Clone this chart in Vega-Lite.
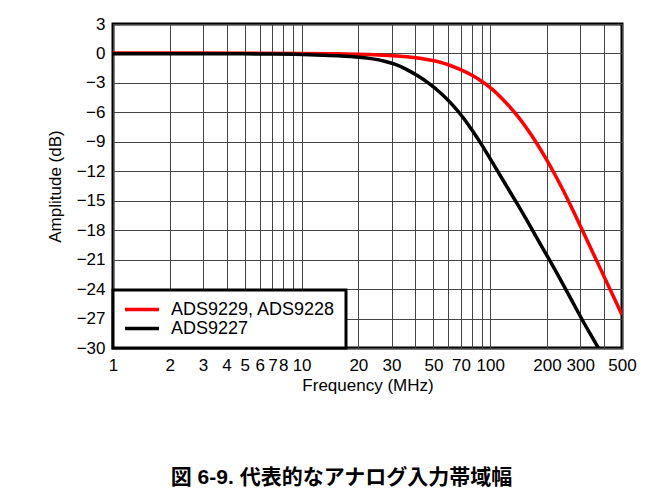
{
  "$schema": "https://vega.github.io/schema/vega-lite/v6.json",
  "width": 509,
  "height": 324,
  "autosize": {"type": "none"},
  "padding": {"left": 113, "top": 24, "right": 45, "bottom": 144},
  "background": "white",
  "title": {
    "text": "図 6-9. 代表的なアナログ入力帯域幅",
    "orient": "bottom",
    "anchor": "middle",
    "offset": 74,
    "dx": -26,
    "font": "Liberation Sans, Noto Sans CJK JP",
    "fontSize": 21,
    "fontWeight": "bold",
    "color": "black"
  },
  "config": {
    "font": "Liberation Sans",
    "view": {"stroke": "black", "strokeWidth": 3},
    "legend": {"strokeWidth": 3}
  },
  "data": {
    "values": [
      {"series": "ADS9229, ADS9228", "f": 1, "db": 0.05},
      {"series": "ADS9229, ADS9228", "f": 3, "db": 0.05},
      {"series": "ADS9229, ADS9228", "f": 6, "db": 0.03},
      {"series": "ADS9229, ADS9228", "f": 10, "db": 0.0},
      {"series": "ADS9229, ADS9228", "f": 14, "db": -0.03},
      {"series": "ADS9229, ADS9228", "f": 20, "db": -0.08},
      {"series": "ADS9229, ADS9228", "f": 26, "db": -0.15},
      {"series": "ADS9229, ADS9228", "f": 32, "db": -0.25},
      {"series": "ADS9229, ADS9228", "f": 39.8, "db": -0.4},
      {"series": "ADS9229, ADS9228", "f": 46, "db": -0.6},
      {"series": "ADS9229, ADS9228", "f": 54, "db": -0.85},
      {"series": "ADS9229, ADS9228", "f": 62, "db": -1.24},
      {"series": "ADS9229, ADS9228", "f": 70.8, "db": -1.7},
      {"series": "ADS9229, ADS9228", "f": 79.4, "db": -2.17},
      {"series": "ADS9229, ADS9228", "f": 88, "db": -2.68},
      {"series": "ADS9229, ADS9228", "f": 95, "db": -3.13},
      {"series": "ADS9229, ADS9228", "f": 103, "db": -3.67},
      {"series": "ADS9229, ADS9228", "f": 112, "db": -4.31},
      {"series": "ADS9229, ADS9228", "f": 126, "db": -5.33},
      {"series": "ADS9229, ADS9228", "f": 143, "db": -6.6},
      {"series": "ADS9229, ADS9228", "f": 159, "db": -7.82},
      {"series": "ADS9229, ADS9228", "f": 178, "db": -9.24},
      {"series": "ADS9229, ADS9228", "f": 198, "db": -10.72},
      {"series": "ADS9229, ADS9228", "f": 223, "db": -12.5},
      {"series": "ADS9229, ADS9228", "f": 245, "db": -14.01},
      {"series": "ADS9229, ADS9228", "f": 268, "db": -15.53},
      {"series": "ADS9229, ADS9228", "f": 297, "db": -17.36},
      {"series": "ADS9229, ADS9228", "f": 325, "db": -18.96},
      {"series": "ADS9229, ADS9228", "f": 355, "db": -20.53},
      {"series": "ADS9229, ADS9228", "f": 385, "db": -21.97},
      {"series": "ADS9229, ADS9228", "f": 417, "db": -23.39},
      {"series": "ADS9229, ADS9228", "f": 457, "db": -25.02},
      {"series": "ADS9229, ADS9228", "f": 500, "db": -26.62},
      {"series": "ADS9227", "f": 1, "db": -0.03},
      {"series": "ADS9227", "f": 3, "db": -0.03},
      {"series": "ADS9227", "f": 5, "db": -0.04},
      {"series": "ADS9227", "f": 7.66, "db": -0.06},
      {"series": "ADS9227", "f": 10, "db": -0.1},
      {"series": "ADS9227", "f": 14.1, "db": -0.2},
      {"series": "ADS9227", "f": 20, "db": -0.35},
      {"series": "ADS9227", "f": 24, "db": -0.55},
      {"series": "ADS9227", "f": 27.5, "db": -0.77},
      {"series": "ADS9227", "f": 31.5, "db": -1.1},
      {"series": "ADS9227", "f": 35.5, "db": -1.54},
      {"series": "ADS9227", "f": 41.7, "db": -2.31},
      {"series": "ADS9227", "f": 47.6, "db": -3.06},
      {"series": "ADS9227", "f": 55, "db": -4.05},
      {"series": "ADS9227", "f": 63.1, "db": -5.19},
      {"series": "ADS9227", "f": 72.4, "db": -6.57},
      {"series": "ADS9227", "f": 80, "db": -7.8},
      {"series": "ADS9227", "f": 87.7, "db": -8.9},
      {"series": "ADS9227", "f": 97, "db": -10.3},
      {"series": "ADS9227", "f": 107.5, "db": -11.72},
      {"series": "ADS9227", "f": 122, "db": -13.5},
      {"series": "ADS9227", "f": 138, "db": -15.2},
      {"series": "ADS9227", "f": 154, "db": -16.75},
      {"series": "ADS9227", "f": 171, "db": -18.3},
      {"series": "ADS9227", "f": 196, "db": -20.3},
      {"series": "ADS9227", "f": 224, "db": -22.24},
      {"series": "ADS9227", "f": 258, "db": -24.4},
      {"series": "ADS9227", "f": 297, "db": -26.6},
      {"series": "ADS9227", "f": 335, "db": -28.4},
      {"series": "ADS9227", "f": 375, "db": -30.0}
    ]
  },
  "mark": {"type": "line", "strokeWidth": 3.5, "interpolate": "basis", "clip": true},
  "encoding": {
    "x": {
      "field": "f",
      "type": "quantitative",
      "scale": {"type": "log", "domain": [1, 500], "nice": false},
      "axis": {
        "values": [1, 2, 3, 4, 5, 6, 7, 8, 9, 10, 20, 30, 40, 50, 60, 70, 80, 90, 100, 200, 300, 400, 500],
        "labelExpr": "indexof([1,2,3,4,5,6,7,8,10,20,30,50,70,100,200,300,500], datum.value) >= 0 ? format(datum.value, 'd') : ''",
        "grid": true,
        "gridColor": "#444444",
        "gridWidth": 1,
        "gridOpacity": 1,
        "ticks": false,
        "domain": false,
        "labelFontSize": 17,
        "labelColor": "black",
        "labelPadding": 9,
        "labelOverlap": false,
        "labelFlush": false,
        "title": "Frequency (MHz)",
        "titleFontSize": 17,
        "titleFontWeight": "normal",
        "titleColor": "black",
        "titlePadding": 4
      }
    },
    "y": {
      "field": "db",
      "type": "quantitative",
      "scale": {"domain": [-30, 3], "nice": false, "zero": false},
      "axis": {
        "values": [-30, -27, -24, -21, -18, -15, -12, -9, -6, -3, 0, 3],
        "grid": true,
        "gridColor": "#444444",
        "gridWidth": 1,
        "gridOpacity": 1,
        "ticks": false,
        "domain": false,
        "labelFontSize": 17,
        "labelColor": "black",
        "labelPadding": 8,
        "title": "Amplitude (dB)",
        "titleFontSize": 17,
        "titleFontWeight": "normal",
        "titleColor": "black",
        "titlePadding": 12
      }
    },
    "color": {
      "field": "series",
      "type": "nominal",
      "scale": {"domain": ["ADS9229, ADS9228", "ADS9227"], "range": ["#ff0000", "#000000"]},
      "legend": {
        "title": null,
        "orient": "bottom-left",
        "offset": 0,
        "symbolType": "stroke",
        "symbolStrokeWidth": 3.5,
        "symbolSize": 1156,
        "clipHeight": 19,
        "rowPadding": 0,
        "labelFontSize": 18,
        "labelColor": "black",
        "labelOffset": 10,
        "labelLimit": 300,
        "padding": 10,
        "strokeColor": "black",
        "fillColor": "white"
      }
    }
  }
}
